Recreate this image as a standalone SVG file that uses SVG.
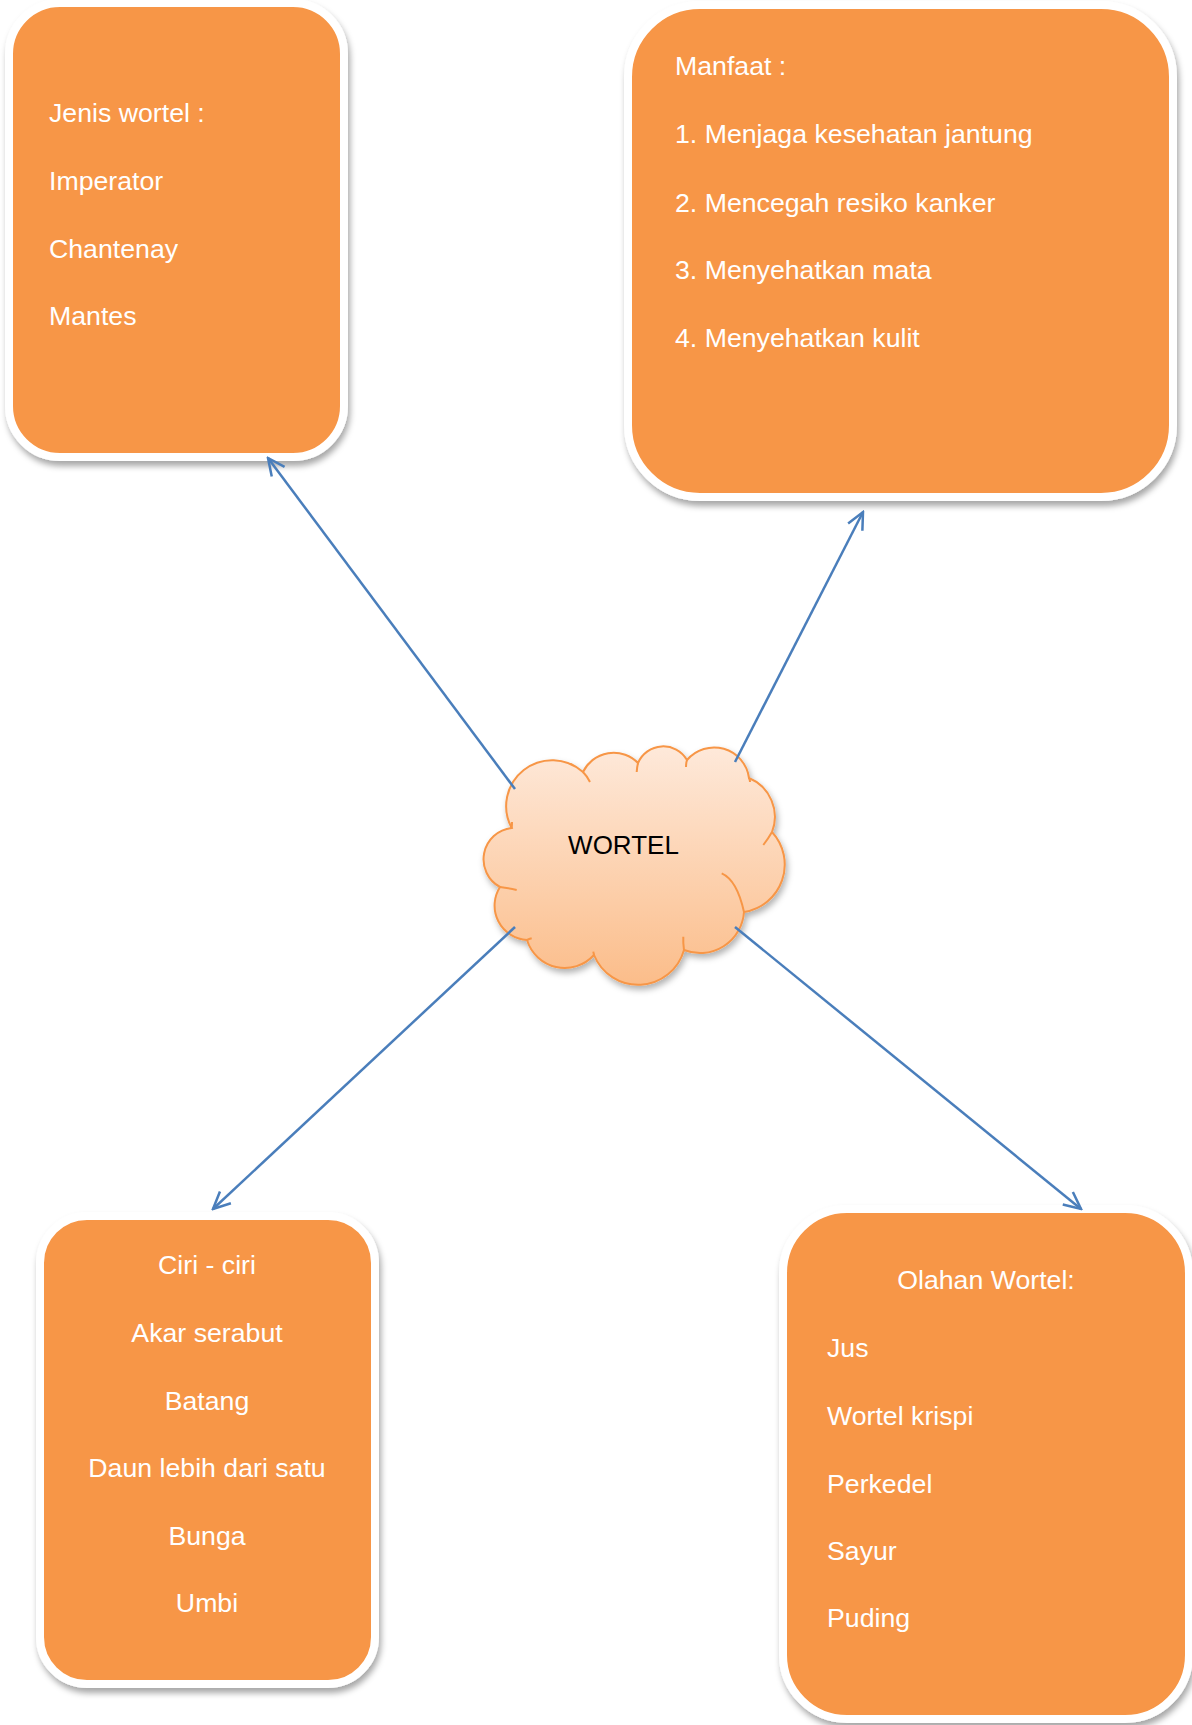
<svg xmlns="http://www.w3.org/2000/svg" width="1192" height="1725" viewBox="0 0 1192 1725">
<style>
.box{fill:#f79646;stroke:#ffffff;stroke-width:8;filter:url(#sh)}
.t{font-family:"Liberation Sans",Arial,sans-serif;font-size:26.7px;fill:#ffffff}
.c{text-anchor:middle}
.conn{stroke:#4a7ebb;stroke-width:2.5;fill:none;marker-end:url(#ah)}
.hook{fill:none;stroke:#f79646;stroke-width:2}
</style>
<defs>
<filter id="sh" x="-10%" y="-10%" width="120%" height="120%">
<feDropShadow dx="2" dy="5" stdDeviation="3" flood-color="#000000" flood-opacity="0.35"/>
</filter>
<filter id="csh" x="-10%" y="-10%" width="125%" height="125%">
<feDropShadow dx="2" dy="4" stdDeviation="3" flood-color="#000000" flood-opacity="0.3"/>
</filter>
<linearGradient id="cg" x1="0" y1="0" x2="0" y2="1">
<stop offset="0" stop-color="#fee9da"/>
<stop offset="1" stop-color="#fbbd8a"/>
</linearGradient>
<marker id="ah" viewBox="0 0 20 20" refX="18" refY="10" markerWidth="20" markerHeight="20" markerUnits="userSpaceOnUse" orient="auto">
<path d="M1,2 L18,10 L1,18" fill="none" stroke="#4a7ebb" stroke-width="2.5"/>
</marker>
</defs>
<rect width="1192" height="1725" fill="#ffffff"/>

<g id="node-jenis">
<rect class="box" x="9" y="3" width="335" height="454" rx="51" ry="51"/>
<text class="t" x="49" y="122">Jenis wortel :</text>
<text class="t" x="49" y="190">Imperator</text>
<text class="t" x="49" y="258">Chantenay</text>
<text class="t" x="49" y="325">Mantes</text>
</g>

<g id="node-manfaat">
<rect class="box" x="628" y="5" width="545" height="492" rx="72" ry="72"/>
<text class="t" x="675" y="75">Manfaat :</text>
<text class="t" x="675" y="143">1. Menjaga kesehatan jantung</text>
<text class="t" x="675" y="212">2. Mencegah resiko kanker</text>
<text class="t" x="675" y="279">3. Menyehatkan mata</text>
<text class="t" x="675" y="347">4. Menyehatkan kulit</text>
</g>

<g id="node-ciri">
<rect class="box" x="40" y="1216" width="335" height="468" rx="47" ry="47"/>
<text class="t c" x="207" y="1274">Ciri - ciri</text>
<text class="t c" x="207" y="1342">Akar serabut</text>
<text class="t c" x="207" y="1410">Batang</text>
<text class="t c" x="207" y="1477">Daun lebih dari satu</text>
<text class="t c" x="207" y="1545">Bunga</text>
<text class="t c" x="207" y="1612">Umbi</text>
</g>

<g id="node-olahan">
<rect class="box" x="783" y="1209" width="406" height="510" rx="64" ry="64"/>
<text class="t c" x="986" y="1289">Olahan Wortel:</text>
<text class="t" x="827" y="1357">Jus</text>
<text class="t" x="827" y="1425">Wortel krispi</text>
<text class="t" x="827" y="1493">Perkedel</text>
<text class="t" x="827" y="1560">Sayur</text>
<text class="t" x="827" y="1627">Puding</text>
</g>

<g id="node-wortel">
<path filter="url(#csh)" fill="url(#cg)" stroke="#f79646" stroke-width="2" d="M511.7 828 A46 46 0 0 1 583 772 A34 34 0 0 1 638 763 A27.5 27.5 0 0 1 687 760 A35.3 35.3 0 0 1 749 778 A42 42 0 0 1 772 832 A48 48 0 0 1 744 912 A44 44 0 0 1 684 950 A47.6 47.6 0 0 1 594 955 A39.5 39.5 0 0 1 527 940 A34.5 34.5 0 0 1 500 887 A31.5 31.5 0 0 1 511.7 828 Z"/>
<path class="hook" d="M583 772 Q587 776 590 782"/>
<path class="hook" d="M638 763 Q637 767 636.7 772"/>
<path class="hook" d="M687 760 Q686 763 686 767"/>
<path class="hook" d="M749 778 Q750 780 750 782"/>
<path class="hook" d="M772 832 Q768 839 763.3 845"/>
<path class="hook" d="M721.7 873.3 Q737 880 744 912"/>
<path class="hook" d="M684 950 Q683 943 683.3 936.7"/>
<path class="hook" d="M594 955 Q593.5 953 593.3 951.7"/>
<path class="hook" d="M527 940 Q529 939 531.7 938.3"/>
<path class="hook" d="M500 887 Q508 888 516.7 890"/>
<path class="hook" d="M511.7 828 Q512 825 512 822"/>
<text x="623.5" y="854" text-anchor="middle" font-family="'Liberation Sans',Arial,sans-serif" font-size="26" fill="#000000">WORTEL</text>
</g>

<g id="connectors">
<line class="conn" x1="515" y1="789" x2="268" y2="458"/>
<line class="conn" x1="735" y1="762" x2="863" y2="512"/>
<line class="conn" x1="515" y1="927" x2="213" y2="1209"/>
<line class="conn" x1="735" y1="927" x2="1081" y2="1209"/>
</g>
</svg>
